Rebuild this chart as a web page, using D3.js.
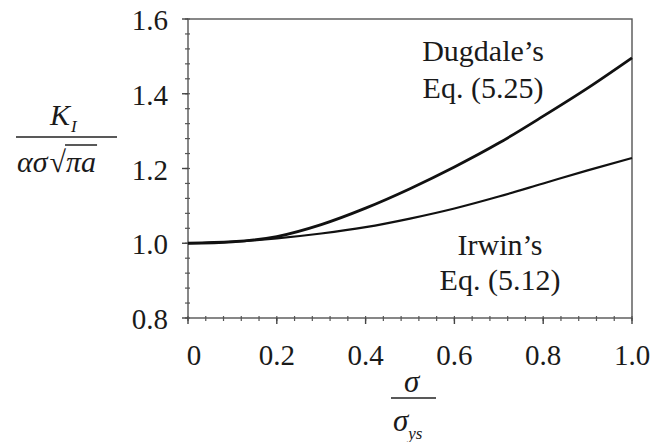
<!DOCTYPE html>
<html>
<head>
<meta charset="utf-8">
<script src="https://cdn.jsdelivr.net/npm/d3@7"></script>
</head>
<body style="margin:0">
<svg id="plot" width="652" height="442"></svg>
<script>
// stress ratio sigma / sigma_ys
let ratio = [0, 0.1, 0.2, 0.3, 0.4, 0.5, 0.6, 0.7, 0.8, 0.9, 1.0];
// normalised K values
let dugdale = [1.000, 1.004, 1.018, 1.050, 1.094, 1.146, 1.204, 1.268, 1.340, 1.415, 1.496];
let irwin = [1.000, 1.004, 1.013, 1.026, 1.043, 1.066, 1.093, 1.125, 1.160, 1.195, 1.228];

let xTicks = [0, 0.2, 0.4, 0.6, 0.8, 1.0];
let xTickLabels = ['0', '0.2', '0.4', '0.6', '0.8', '1.0'];
let yTicks = [0.8, 1.0, 1.2, 1.4, 1.6];
let yTickLabels = ['0.8', '1.0', '1.2', '1.4', '1.6'];

let ink = '#1a1a1a';

let margin = { left: 188, right: 20, top: 19, bottom: 124 };
let width = 652, height = 442;

let svg = d3.select('#plot');

let x = d3.scaleLinear().domain([0, 1]).range([margin.left, width - margin.right]);
let y = d3.scaleLinear().domain([0.8, 1.6]).range([height - margin.bottom, margin.top]);

// frame
svg.append('rect')
  .attr('x', x(0)).attr('y', y(1.6))
  .attr('width', x(1) - x(0)).attr('height', y(0.8) - y(1.6))
  .attr('fill', 'none').attr('stroke', '#555').attr('stroke-width', 1.4);

// minor ticks every 0.04
let xMinor = d3.range(0, 1.0001, 0.04);
let yMinor = d3.range(0.8, 1.6001, 0.04);

svg.append('g').selectAll('line').data(xMinor).enter().append('line')
  .attr('x1', d => x(d)).attr('x2', d => x(d))
  .attr('y1', y(0.8) - 2).attr('y2', y(0.8) + 3)
  .attr('stroke', '#555').attr('stroke-width', 1.2);

svg.append('g').selectAll('line').data(xTicks).enter().append('line')
  .attr('x1', d => x(d)).attr('x2', d => x(d))
  .attr('y1', y(0.8)).attr('y2', y(0.8) + 6)
  .attr('stroke', '#444').attr('stroke-width', 1.4);

svg.append('g').selectAll('line').data(yMinor).enter().append('line')
  .attr('x1', x(0) - 3).attr('x2', x(0) + 2)
  .attr('y1', d => y(d)).attr('y2', d => y(d))
  .attr('stroke', '#555').attr('stroke-width', 1.2);

svg.append('g').selectAll('line').data(yTicks).enter().append('line')
  .attr('x1', x(0) - 6).attr('x2', x(0))
  .attr('y1', d => y(d)).attr('y2', d => y(d))
  .attr('stroke', '#444').attr('stroke-width', 1.4);

// tick labels
svg.append('g').selectAll('text').data(xTicks).enter().append('text')
  .attr('x', d => x(d) + (d === 0 ? 6 : 0))
  .attr('y', 365)
  .attr('text-anchor', 'middle')
  .style('font-size', '29px')
  .style('font-family', '"Liberation Serif"')
  .attr('fill', ink)
  .text((d, i) => xTickLabels[i]);

svg.append('g').selectAll('text').data(yTicks).enter().append('text')
  .attr('x', 168)
  .attr('y', d => y(d) + 11)
  .attr('text-anchor', 'end')
  .style('font-size', '29px')
  .style('font-family', '"Liberation Serif"')
  .attr('fill', ink)
  .text((d, i) => yTickLabels[i]);

// curves
let line = d3.line()
  .x((d, i) => x(ratio[i]))
  .y(d => y(d))
  .curve(d3.curveMonotoneX);

svg.append('path').datum(dugdale)
  .attr('d', line)
  .attr('fill', 'none').attr('stroke', '#111').attr('stroke-width', 2.8);

svg.append('path').datum(irwin)
  .attr('d', line)
  .attr('fill', 'none').attr('stroke', '#111').attr('stroke-width', 2.2);

// annotations
let notes = [
  { text: 'Dugdale\u2019s', cx: 483, cy: 61 },
  { text: 'Eq. (5.25)', cx: 483, cy: 98 },
  { text: 'Irwin\u2019s', cx: 500, cy: 255 },
  { text: 'Eq. (5.12)', cx: 500, cy: 290 }
];
svg.append('g').selectAll('text').data(notes).enter().append('text')
  .attr('x', d => d.cx).attr('y', d => d.cy)
  .attr('text-anchor', 'middle')
  .style('font-size', '30px')
  .style('font-family', '"Liberation Serif"')
  .attr('fill', ink)
  .text(d => d.text);

// y axis label: K_I / (alpha sigma sqrt(pi a))
let yl = svg.append('g');
let num = yl.append('text').attr('x', 50).attr('y', 125)
  .style('font-size', '30px').style('font-family', '"Liberation Serif"')
  .attr('fill', ink);
num.append('tspan').style('font-style', 'italic').text('K');
num.append('tspan').style('font-style', 'italic').style('font-size', '17px')
  .attr('dx', 1).attr('dy', 7).text('I');

yl.append('line')
  .attr('x1', 16).attr('x2', 117).attr('y1', 137).attr('y2', 137)
  .attr('stroke', '#222').attr('stroke-width', 1.6);

let den = yl.append('text').attr('x', 17).attr('y', 172)
  .style('font-size', '30px').style('font-family', '"Liberation Serif"')
  .attr('fill', ink);
den.append('tspan').style('font-style', 'italic').text('\u03b1\u03c3');
den.append('tspan').attr('dx', 2).text('\u221a');
let pa = den.append('tspan').style('font-style', 'italic').text('\u03c0a');

let paBox = pa.node().getExtentOfChar(0);
let paLen = pa.node().getComputedTextLength();
yl.append('line')
  .attr('x1', paBox.x - 1).attr('x2', paBox.x + paLen + 1)
  .attr('y1', 145).attr('y2', 145)
  .attr('stroke', '#222').attr('stroke-width', 1.4);

// x axis label: sigma / sigma_ys
let xl = svg.append('g');
xl.append('text').attr('x', 404).attr('y', 392)
  .style('font-size', '31px').style('font-style', 'italic')
  .style('font-family', '"Liberation Serif"')
  .attr('fill', ink)
  .text('\u03c3');
xl.append('line')
  .attr('x1', 391).attr('x2', 436).attr('y1', 398).attr('y2', 398)
  .attr('stroke', '#222').attr('stroke-width', 1.6);
let sy = xl.append('text').attr('x', 393).attr('y', 431)
  .style('font-size', '31px').style('font-family', '"Liberation Serif"')
  .attr('fill', ink);
sy.append('tspan').style('font-style', 'italic').text('\u03c3');
sy.append('tspan').style('font-style', 'italic').style('font-size', '17px')
  .attr('dy', 8).text('ys');
</script>
</body>
</html>
